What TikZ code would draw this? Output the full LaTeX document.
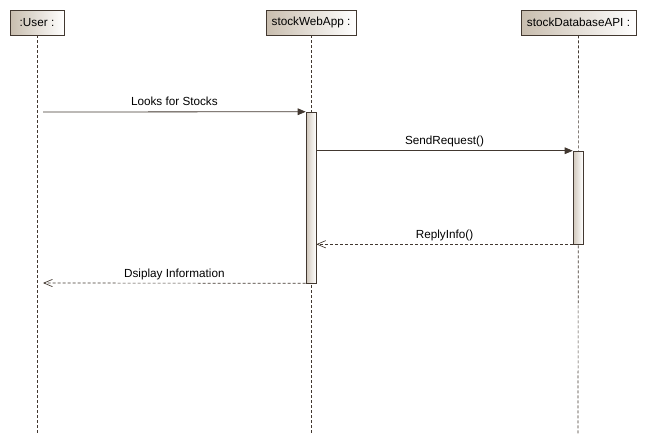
\documentclass[tikz,border=0pt]{standalone}
\usepackage{fontspec}
\setmainfont{Liberation Sans}
\usepackage{xcolor}
\usetikzlibrary{arrows.meta}
\usetikzlibrary{positioning,shadings}
\definecolor{umlline}{RGB}{66,56,48}
\definecolor{umltan}{RGB}{200,189,174}

\begin{document}
\begin{tikzpicture}[x=0.75pt,y=-0.75pt]
  \tikzset{head/.style = {shape=rectangle,draw=umlline,left color=umltan,right color=white,minimum height=18.75pt,inner sep=1pt,font=\fontsize{8.8}{10}\selectfont}}
  \tikzset{bar/.style = {shape=rectangle,draw=umlline,left color=umltan!85,right color=white,minimum width=7.5pt,inner sep=0pt}}
  \tikzset{lifeline/.style = {draw=umlline,dash pattern=on 2.25pt off 1.5pt,line width=0.5pt}}
  \tikzset{msg/.style = {draw=umlline,line width=0.6pt,-{Triangle[length=6pt,width=5pt]}}}
  \tikzset{reply/.style = {draw=umlline,line width=0.5pt,dash pattern=on 2.25pt off 1.5pt,-{Straight Barb[length=6.5pt,width=5.5pt]}}}
  \tikzset{lbl/.style = {midway,anchor=base,yshift=4.5pt,font=\fontsize{8.8}{10}\selectfont}}

  \useasboundingbox (0,0) rectangle (646,444);

  % lifeline heads
  \node[head,minimum width=40.5pt] (user) at (37,22.5) {:User :};
  \node[head,minimum width=67.5pt] (webapp) at (311,22.5) {stockWebApp :};
  \node[head,minimum width=86.25pt] (dbapi) at (578.5,22.5) {stockDatabaseAPI :};

  % lifeline ends
  \coordinate (userend) at (37,434);
  \coordinate (webend) at (311,434);
  \coordinate (dbend) at (578,434);

  \foreach \from/\to in {user/userend, webapp/webend, dbapi/dbend}
    \path[lifeline] (\from) -- (\to);

  % activations
  \node[bar,minimum height=128.25pt] (webbar) at (311,197.5) {};
  \node[bar,minimum height=69.75pt] (dbbar) at (578,197.5) {};

  \coordinate (userout) at (43,112);
  \coordinate (userin) at (43,283);

  \draw[msg] (userout) -- node[lbl]{Looks for Stocks} (webbar.north west);
  \draw[msg] (webbar.east |- dbbar.north) -- node[lbl]{SendRequest()} (dbbar.north west);
  \draw[reply] (dbbar.south west) -- node[lbl]{ReplyInfo()} (webbar.east |- dbbar.south);
  \draw[reply] (webbar.south west) -- node[lbl]{Dsiplay Information} (userin);

\end{tikzpicture}
\end{document}
